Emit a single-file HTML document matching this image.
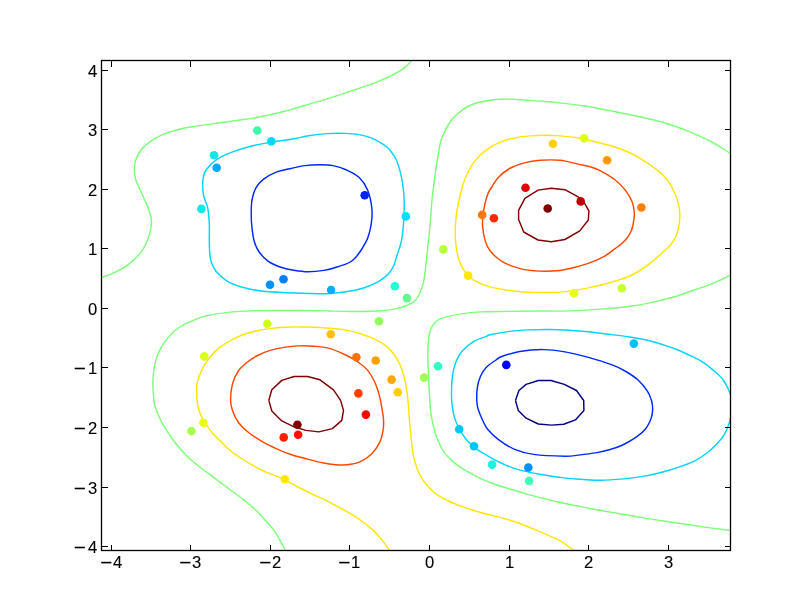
<!DOCTYPE html><html><head><meta charset="utf-8"><style>html,body{margin:0;padding:0;background:#fff;width:812px;height:612px;overflow:hidden}svg{display:block}text{font-family:"Liberation Sans",sans-serif;font-size:16.6px;fill:#000}</style></head><body>
<svg width="812" height="612" viewBox="0 0 812 612">
<rect width="812" height="612" fill="#fff"/>
<defs><clipPath id="ax"><rect x="101.5" y="60.5" width="629.0" height="490.0"/></clipPath></defs>
<g clip-path="url(#ax)" fill="none" stroke-width="1.45" stroke-linejoin="round" stroke-linecap="butt">
<path stroke="#7dff7a" d="M412.60,60.00C410.62,61.73 406.18,66.92 400.70,70.40C395.22,73.88 387.85,77.48 379.70,80.90C371.55,84.32 361.12,87.73 351.80,90.90C342.48,94.07 332.78,97.13 323.80,99.90C314.82,102.67 304.55,105.57 297.90,107.50C291.25,109.43 290.55,109.87 283.90,111.50C277.25,113.13 264.70,115.97 258.00,117.30C251.30,118.63 250.08,118.58 243.70,119.50C237.32,120.42 228.35,121.58 219.70,122.80C211.05,124.02 199.12,125.57 191.80,126.80C184.48,128.03 180.47,128.97 175.80,130.20C171.13,131.43 167.72,132.53 163.80,134.20C159.88,135.87 156.12,137.53 152.30,140.20C148.48,142.87 143.70,146.77 140.90,150.20C138.10,153.63 136.60,157.38 135.50,160.80C134.40,164.22 134.23,167.48 134.30,170.70C134.37,173.92 134.47,175.88 135.90,180.10C137.33,184.32 140.73,191.03 142.90,196.00C145.07,200.97 147.47,205.75 148.90,209.90C150.33,214.05 151.33,217.07 151.50,220.90C151.67,224.73 150.83,229.08 149.90,232.90C148.97,236.72 147.57,240.32 145.90,243.80C144.23,247.28 142.90,250.30 139.90,253.80C136.90,257.30 132.22,261.63 127.90,264.80C123.58,267.97 118.32,270.70 114.00,272.80C109.68,274.90 106.00,275.87 102.00,277.40C98.00,278.93 92.00,281.23 90.00,282.00"/>
<path stroke="#7dff7a" d="M740.00,159.50C738.35,158.45 733.12,155.12 730.10,153.20C727.08,151.28 725.22,150.03 721.90,148.00C718.58,145.97 714.10,143.05 710.20,141.00C706.30,138.95 702.40,137.42 698.50,135.70C694.60,133.98 690.70,132.27 686.80,130.70C682.90,129.13 679.00,127.67 675.10,126.30C671.20,124.93 666.75,123.52 663.40,122.50C660.05,121.48 660.53,121.48 655.00,120.20C649.47,118.92 638.23,116.48 630.20,114.80C622.17,113.12 614.60,111.60 606.80,110.10C599.00,108.60 591.20,107.00 583.40,105.80C575.60,104.60 567.95,103.72 560.00,102.90C552.05,102.08 543.40,101.50 535.70,100.90C528.00,100.30 520.45,99.53 513.80,99.30C507.15,99.07 502.28,98.80 495.80,99.50C489.32,100.20 480.55,101.70 474.90,103.50C469.25,105.30 465.90,107.42 461.90,110.30C457.90,113.18 454.23,116.22 450.90,120.80C447.57,125.38 444.05,131.97 441.90,137.80C439.75,143.63 439.25,148.75 438.00,155.80C436.75,162.85 435.40,172.73 434.40,180.10C433.40,187.47 432.80,191.70 432.00,200.00C431.20,208.30 430.45,220.73 429.60,229.90C428.75,239.07 427.58,248.57 426.90,255.00C426.22,261.43 426.07,263.98 425.50,268.50C424.93,273.02 424.52,277.80 423.50,282.10C422.48,286.40 420.98,291.03 419.40,294.30C417.82,297.57 416.25,299.78 414.00,301.70C411.75,303.62 409.07,304.60 405.90,305.80C402.73,307.00 398.62,308.12 395.00,308.90C391.38,309.68 388.27,310.12 384.20,310.50C380.13,310.88 376.25,311.05 370.60,311.20C364.95,311.35 357.07,311.43 350.30,311.40C343.53,311.37 335.40,311.12 330.00,311.00C324.60,310.88 324.83,310.78 317.90,310.70C310.97,310.62 298.25,310.52 288.40,310.50C278.55,310.48 268.65,310.33 258.80,310.60C248.95,310.87 238.17,311.20 229.30,312.10C220.43,313.00 211.85,314.50 205.60,316.00C199.35,317.50 196.23,319.18 191.80,321.10C187.37,323.02 183.00,324.70 179.00,327.50C175.00,330.30 170.98,334.17 167.80,337.90C164.62,341.63 162.05,345.57 159.90,349.90C157.75,354.23 156.07,358.58 154.90,363.90C153.73,369.22 153.07,375.82 152.90,381.80C152.73,387.78 153.48,395.55 153.90,399.80C154.32,404.05 154.33,404.02 155.40,407.30C156.47,410.58 158.27,415.42 160.30,419.50C162.33,423.58 164.95,427.72 167.60,431.80C170.25,435.88 172.93,439.92 176.20,444.00C179.47,448.08 183.23,452.42 187.20,456.30C191.17,460.18 195.50,463.72 200.00,467.30C204.50,470.88 209.47,474.27 214.20,477.80C218.93,481.33 223.65,484.95 228.40,488.50C233.15,492.05 238.18,495.55 242.70,499.10C247.22,502.65 251.72,506.23 255.50,509.80C259.28,513.37 262.32,517.07 265.40,520.50C268.48,523.93 271.62,527.20 274.00,530.40C276.38,533.60 277.82,536.38 279.70,539.70C281.58,543.02 283.83,547.33 285.30,550.30C286.77,553.27 287.97,556.30 288.50,557.50"/>
<path stroke="#7dff7a" d="M740.00,271.00C738.27,271.77 733.73,273.72 729.60,275.60C725.47,277.48 721.30,279.82 715.20,282.30C709.10,284.78 700.40,287.92 693.00,290.50C685.60,293.08 678.18,295.70 670.80,297.80C663.42,299.90 656.08,301.62 648.70,303.10C641.32,304.58 633.90,305.73 626.50,306.70C619.10,307.67 611.68,308.28 604.30,308.90C596.92,309.52 589.58,310.03 582.20,310.40C574.82,310.77 567.75,311.00 560.00,311.10C552.25,311.20 544.43,310.95 535.70,311.00C526.97,311.05 516.60,311.25 507.60,311.40C498.60,311.55 488.88,311.57 481.70,311.90C474.52,312.23 470.02,312.65 464.50,313.40C458.98,314.15 453.15,315.22 448.60,316.40C444.05,317.58 440.20,318.32 437.20,320.50C434.20,322.68 432.03,326.37 430.60,329.50C429.17,332.63 429.07,335.05 428.60,339.30C428.13,343.55 427.82,349.18 427.80,355.00C427.78,360.82 428.17,366.70 428.50,374.20C428.83,381.70 429.35,393.15 429.80,400.00C430.25,406.85 430.30,409.82 431.20,415.30C432.10,420.78 433.73,427.95 435.20,432.90C436.67,437.85 438.42,441.63 440.00,445.00C441.58,448.37 442.33,450.17 444.70,453.10C447.07,456.03 450.82,459.77 454.20,462.60C457.58,465.43 460.48,467.38 465.00,470.10C469.52,472.82 476.33,476.53 481.30,478.90C486.27,481.27 490.02,482.62 494.80,484.30C499.58,485.98 504.20,487.23 510.00,489.00C515.80,490.77 521.42,492.68 529.60,494.90C537.78,497.12 549.25,500.08 559.10,502.30C568.95,504.52 578.85,506.33 588.70,508.20C598.55,510.07 608.35,511.77 618.20,513.50C628.05,515.23 637.93,517.02 647.80,518.60C657.67,520.18 667.55,521.53 677.40,523.00C687.25,524.47 698.13,526.17 706.90,527.40C715.67,528.63 724.48,529.67 730.00,530.40C735.52,531.13 738.33,531.57 740.00,531.80"/>
<path stroke="#00d4ff" d="M290.00,139.50C296.92,138.32 302.35,136.78 308.50,135.80C314.65,134.82 320.75,134.00 326.90,133.60C333.05,133.20 340.05,133.23 345.40,133.40C350.75,133.57 354.68,133.85 359.00,134.60C363.32,135.35 367.20,136.22 371.30,137.90C375.40,139.58 380.48,142.65 383.60,144.70C386.72,146.75 387.87,147.65 390.00,150.20C392.13,152.75 394.52,155.65 396.40,160.00C398.28,164.35 400.08,170.85 401.30,176.30C402.52,181.75 403.22,187.25 403.70,192.70C404.18,198.15 404.25,203.55 404.20,209.00C404.15,214.45 403.88,219.95 403.40,225.40C402.92,230.85 402.35,236.77 401.30,241.70C400.25,246.63 398.37,250.98 397.10,255.00C395.83,259.02 395.18,262.63 393.70,265.80C392.22,268.97 390.68,271.40 388.20,274.00C385.72,276.60 382.63,279.15 378.80,281.40C374.97,283.65 370.17,285.85 365.20,287.50C360.23,289.15 354.87,290.28 349.00,291.30C343.13,292.32 335.18,293.20 330.00,293.60C324.82,294.00 324.92,293.85 317.90,293.70C310.88,293.55 297.28,293.15 287.90,292.70C278.52,292.25 269.48,292.00 261.60,291.00C253.72,290.00 246.35,288.33 240.60,286.70C234.85,285.07 231.20,283.77 227.10,281.20C223.00,278.63 218.67,274.58 216.00,271.30C213.33,268.02 212.17,264.88 211.10,261.50C210.03,258.12 209.90,254.92 209.60,251.00C209.30,247.08 209.35,242.52 209.30,238.00C209.25,233.48 209.57,228.92 209.30,223.90C209.03,218.88 208.67,212.72 207.70,207.90C206.73,203.08 204.30,199.57 203.50,195.00C202.70,190.43 202.48,184.67 202.90,180.50C203.32,176.33 203.73,173.48 206.00,170.00C208.27,166.52 212.50,162.47 216.50,159.60C220.50,156.73 224.87,154.87 230.00,152.80C235.13,150.73 241.13,148.85 247.30,147.20C253.47,145.55 259.88,144.18 267.00,142.90C274.12,141.62 283.08,140.68 290.00,139.50Z"/>
<path stroke="#00d4ff" d="M733.00,400.00C732.52,398.83 731.70,396.30 730.10,393.00C728.50,389.70 726.17,383.97 723.40,380.20C720.63,376.43 717.18,373.57 713.50,370.40C709.82,367.23 705.38,363.77 701.30,361.20C697.22,358.63 693.08,356.95 689.00,355.00C684.92,353.05 680.88,351.13 676.80,349.50C672.72,347.87 668.58,346.53 664.50,345.20C660.42,343.87 656.38,342.58 652.30,341.50C648.22,340.42 644.07,339.50 640.00,338.70C635.93,337.90 633.20,337.45 627.90,336.70C622.60,335.95 614.77,335.02 608.20,334.20C601.63,333.38 595.07,332.47 588.50,331.80C581.93,331.13 575.37,330.58 568.80,330.20C562.23,329.82 555.67,329.55 549.10,329.50C542.53,329.45 535.97,329.58 529.40,329.90C522.83,330.22 516.27,330.58 509.70,331.40C503.13,332.22 493.98,333.93 490.00,334.80C486.02,335.67 488.42,335.53 485.80,336.60C483.18,337.67 478.12,338.92 474.30,341.20C470.48,343.48 465.75,347.35 462.90,350.30C460.05,353.25 458.73,355.75 457.20,358.90C455.67,362.05 454.57,365.58 453.70,369.20C452.83,372.82 452.37,376.30 452.00,380.60C451.63,384.90 451.45,390.70 451.50,395.00C451.55,399.30 451.78,402.58 452.30,406.40C452.82,410.22 453.45,414.18 454.60,417.90C455.75,421.62 457.38,425.27 459.20,428.70C461.02,432.13 462.93,435.35 465.50,438.50C468.07,441.65 470.98,444.75 474.60,447.60C478.22,450.45 482.97,453.12 487.20,455.60C491.43,458.08 495.23,460.28 500.00,462.50C504.77,464.72 509.18,466.93 515.80,468.90C522.42,470.87 532.38,472.90 539.70,474.30C547.02,475.70 553.98,476.53 559.70,477.30C565.42,478.07 567.30,478.40 574.00,478.90C580.70,479.40 591.58,480.30 599.90,480.30C608.22,480.30 616.73,479.55 623.90,478.90C631.07,478.25 637.57,477.25 642.90,476.40C648.23,475.55 651.58,474.82 655.90,473.80C660.22,472.78 664.50,471.58 668.80,470.30C673.10,469.02 677.38,467.67 681.70,466.10C686.02,464.53 690.38,463.17 694.70,460.90C699.02,458.63 703.73,455.52 707.60,452.50C711.47,449.48 715.10,445.82 717.90,442.80C720.70,439.78 722.57,437.52 724.40,434.40C726.23,431.28 727.80,427.17 728.90,424.10C730.00,421.03 730.32,418.68 731.00,416.00C731.68,413.32 732.67,409.33 733.00,408.00"/>
<path stroke="#0028ff" d="M290.00,168.70C294.67,167.65 299.87,166.27 304.80,165.60C309.73,164.93 314.88,164.70 319.60,164.70C324.32,164.70 328.58,164.72 333.10,165.60C337.62,166.48 342.38,168.05 346.70,170.00C351.02,171.95 355.52,173.97 359.00,177.30C362.48,180.63 365.45,184.72 367.60,190.00C369.75,195.28 371.33,203.10 371.90,209.00C372.47,214.90 371.97,219.95 371.00,225.40C370.03,230.85 369.08,235.93 366.10,241.70C363.12,247.47 357.82,255.82 353.10,260.00C348.38,264.18 342.68,265.07 337.80,266.80C332.92,268.53 328.78,269.57 323.80,270.40C318.82,271.23 312.87,271.82 307.90,271.80C302.93,271.78 298.65,271.10 294.00,270.30C289.35,269.50 284.38,268.57 280.00,267.00C275.62,265.43 271.28,263.57 267.70,260.90C264.12,258.23 260.75,254.28 258.50,251.00C256.25,247.72 255.28,245.05 254.20,241.20C253.12,237.35 252.50,232.45 252.00,227.90C251.50,223.35 251.20,218.55 251.20,213.90C251.20,209.25 251.22,204.33 252.00,200.00C252.78,195.67 254.02,191.35 255.90,187.90C257.78,184.45 259.82,181.97 263.30,179.30C266.78,176.63 272.35,173.67 276.80,171.90C281.25,170.13 285.33,169.75 290.00,168.70Z"/>
<path stroke="#0028ff" d="M501.80,356.50C505.73,355.08 512.70,352.65 519.60,351.50C526.50,350.35 535.65,349.53 543.20,349.60C550.75,349.67 557.35,350.60 564.90,351.90C572.45,353.20 580.62,355.23 588.50,357.40C596.38,359.57 606.12,362.63 612.20,364.90C618.28,367.17 620.73,368.52 625.00,371.00C629.27,373.48 634.07,376.43 637.80,379.80C641.53,383.17 645.08,387.63 647.40,391.20C649.72,394.77 650.83,398.00 651.70,401.20C652.57,404.40 652.70,407.53 652.60,410.40C652.50,413.27 652.37,415.22 651.10,418.40C649.83,421.58 647.87,426.12 645.00,429.50C642.13,432.88 637.80,436.03 633.90,438.70C630.00,441.37 625.70,443.65 621.60,445.50C617.50,447.35 613.40,448.62 609.30,449.80C605.20,450.98 602.13,451.72 597.00,452.60C591.87,453.48 583.83,454.50 578.50,455.10C573.17,455.70 572.48,456.32 565.00,456.20C557.52,456.08 542.10,455.58 533.60,454.40C525.10,453.22 519.85,451.57 514.00,449.10C508.15,446.63 502.87,442.87 498.50,439.60C494.13,436.33 490.45,432.73 487.80,429.50C485.15,426.27 484.23,423.67 482.60,420.20C480.97,416.73 478.97,411.93 478.00,408.70C477.03,405.47 476.92,404.28 476.80,400.80C476.68,397.32 476.68,391.88 477.30,387.80C477.92,383.72 479.02,379.70 480.50,376.30C481.98,372.90 483.62,370.12 486.20,367.40C488.78,364.68 493.40,361.82 496.00,360.00C498.60,358.18 497.87,357.92 501.80,356.50Z"/>
<path stroke="#000080" d="M515.50,400.50L518.90,390.50L526.10,384.40L538.30,380.50L551.00,380.50L564.30,384.40L576.50,390.50L583.70,400.50L583.90,410.50L575.40,419.90L563.70,424.30L551.60,425.10L538.30,424.00L526.10,418.20L518.30,410.50L515.50,400.50"/>
<path stroke="#ffe600" d="M560.00,135.90C566.55,136.50 576.73,137.72 583.40,138.90C590.07,140.08 594.90,141.70 600.00,143.00C605.10,144.30 609.32,145.20 614.00,146.70C618.68,148.20 623.42,149.85 628.10,152.00C632.78,154.15 637.23,156.58 642.10,159.60C646.97,162.62 653.00,166.60 657.30,170.10C661.60,173.60 664.87,176.45 667.90,180.60C670.93,184.75 673.65,190.65 675.50,195.00C677.35,199.35 678.28,203.18 679.00,206.70C679.72,210.22 679.80,212.98 679.80,216.10C679.80,219.22 679.63,222.08 679.00,225.40C678.37,228.72 677.47,232.68 676.00,236.00C674.53,239.32 672.30,242.67 670.20,245.30C668.10,247.93 666.98,248.62 663.40,251.80C659.82,254.98 653.62,260.70 648.70,264.40C643.78,268.10 638.83,271.42 633.90,274.00C628.97,276.58 624.03,278.18 619.10,279.90C614.17,281.62 609.22,283.02 604.30,284.30C599.38,285.58 594.52,286.62 589.60,287.60C584.68,288.58 579.73,289.45 574.80,290.20C569.87,290.95 565.80,291.73 560.00,292.10C554.20,292.47 546.63,292.47 540.00,292.40C533.37,292.33 528.20,292.53 520.20,291.70C512.20,290.87 499.83,289.37 492.00,287.40C484.17,285.43 477.75,282.57 473.20,279.90C468.65,277.23 467.05,274.68 464.70,271.40C462.35,268.12 460.57,264.58 459.10,260.20C457.63,255.82 456.53,250.12 455.90,245.10C455.27,240.08 455.23,235.10 455.30,230.10C455.37,225.10 455.67,220.12 456.30,215.10C456.93,210.08 458.00,205.02 459.10,200.00C460.20,194.98 461.72,189.00 462.90,185.00C464.08,181.00 464.23,179.98 466.20,176.00C468.17,172.02 471.15,165.58 474.70,161.10C478.25,156.62 483.02,152.33 487.50,149.10C491.98,145.87 496.88,143.60 501.60,141.70C506.32,139.80 511.07,138.67 515.80,137.70C520.53,136.73 525.28,136.30 530.00,135.90C534.72,135.50 539.10,135.30 544.10,135.30C549.10,135.30 553.45,135.30 560.00,135.90Z"/>
<path stroke="#ff4700" d="M560.00,160.30C566.33,160.93 573.00,163.03 578.00,164.10C583.00,165.17 586.33,165.60 590.00,166.70C593.67,167.80 595.80,168.48 600.00,170.70C604.20,172.92 610.92,176.68 615.20,180.00C619.48,183.32 622.87,186.93 625.70,190.60C628.53,194.27 630.78,198.53 632.20,202.00C633.62,205.47 633.92,208.47 634.20,211.40C634.48,214.33 634.33,216.48 633.90,219.60C633.47,222.72 632.77,226.98 631.60,230.10C630.43,233.22 628.65,235.97 626.90,238.30C625.15,240.63 623.13,242.33 621.10,244.10C619.07,245.87 617.50,246.87 614.70,248.90C611.90,250.93 608.48,253.97 604.30,256.30C600.12,258.63 594.52,261.07 589.60,262.90C584.68,264.73 579.73,266.03 574.80,267.30C569.87,268.57 565.98,269.87 560.00,270.50C554.02,271.13 545.53,271.42 538.90,271.10C532.27,270.78 526.45,270.27 520.20,268.60C513.95,266.93 506.42,264.07 501.40,261.10C496.38,258.13 492.77,254.08 490.10,250.80C487.43,247.52 486.65,245.48 485.40,241.40C484.15,237.32 482.92,231.32 482.60,226.30C482.28,221.28 482.70,216.52 483.50,211.30C484.30,206.08 486.02,199.05 487.40,195.00C488.78,190.95 489.95,189.95 491.80,187.00C493.65,184.05 495.53,180.38 498.50,177.30C501.47,174.22 505.30,170.90 509.60,168.50C513.90,166.10 519.23,164.27 524.30,162.90C529.37,161.53 534.05,160.73 540.00,160.30C545.95,159.87 553.67,159.67 560.00,160.30Z"/>
<path stroke="#ff4700" d="M230.60,400.00C230.60,395.67 231.12,389.13 232.40,384.30C233.68,379.47 235.83,374.68 238.30,371.00C240.77,367.32 244.00,364.78 247.20,362.20C250.40,359.62 253.82,357.43 257.50,355.50C261.18,353.57 264.87,351.95 269.30,350.60C273.73,349.25 279.17,348.18 284.10,347.40C289.03,346.62 293.97,346.10 298.90,345.90C303.83,345.70 308.78,345.83 313.70,346.20C318.62,346.57 323.05,346.63 328.40,348.10C333.75,349.57 340.87,352.68 345.80,355.00C350.73,357.32 354.38,359.48 358.00,362.00C361.62,364.52 364.78,366.93 367.50,370.10C370.22,373.27 372.50,377.38 374.30,381.00C376.10,384.62 377.28,388.63 378.30,391.80C379.32,394.97 379.83,397.43 380.40,400.00C380.97,402.57 381.18,403.97 381.70,407.20C382.22,410.43 383.27,415.57 383.50,419.40C383.73,423.23 383.73,426.37 383.10,430.20C382.47,434.03 381.62,438.45 379.70,442.40C377.78,446.35 374.98,450.62 371.60,453.90C368.22,457.18 363.70,460.28 359.40,462.10C355.10,463.92 349.73,464.37 345.80,464.80C341.87,465.23 339.68,465.03 335.80,464.70C331.92,464.37 327.17,463.73 322.50,462.80C317.83,461.87 312.97,460.45 307.80,459.10C302.63,457.75 296.68,456.42 291.50,454.70C286.32,452.98 281.63,451.02 276.70,448.80C271.77,446.58 266.58,444.12 261.90,441.40C257.22,438.68 252.53,435.70 248.60,432.50C244.67,429.30 241.00,425.90 238.30,422.20C235.60,418.50 233.68,414.00 232.40,410.30C231.12,406.60 230.60,404.33 230.60,400.00Z"/>
<path stroke="#800000" d="M518.60,210.30L524.90,198.30L538.00,190.10L551.20,188.20L564.90,189.70L578.60,197.20L584.30,202.90L588.90,210.90L588.30,220.00L579.80,230.90L564.90,239.50L551.20,241.80L538.00,240.00L523.70,232.00L518.60,219.50L518.60,210.30"/>
<path stroke="#800000" d="M268.80,400.40L271.80,389.80L281.80,380.40L294.10,376.50L307.60,376.50L320.00,379.80L333.50,389.80L340.60,400.40L343.50,410.40L341.80,420.40L332.40,428.60L318.80,431.90L305.90,430.40L294.10,426.80L281.80,420.90L271.80,410.90L268.80,400.40"/>
<path stroke="#ffe600" d="M395.50,558.50C394.47,557.08 391.67,553.23 389.30,550.00C386.93,546.77 384.07,542.45 381.30,539.10C378.53,535.75 376.20,533.08 372.70,529.90C369.20,526.72 365.03,523.28 360.30,520.00C355.57,516.72 350.03,513.48 344.30,510.20C338.57,506.92 331.23,502.97 325.90,500.30C320.57,497.63 316.62,496.25 312.30,494.20C307.98,492.15 304.72,490.48 300.00,488.00C295.28,485.52 289.55,481.92 284.00,479.30C278.45,476.68 270.82,474.02 266.70,472.30C262.58,470.58 261.75,470.23 259.30,469.00C256.85,467.77 254.45,466.32 252.00,464.90C249.55,463.48 247.07,462.03 244.60,460.50C242.13,458.97 239.67,457.42 237.20,455.70C234.73,453.98 232.10,452.15 229.80,450.20C227.50,448.25 226.23,446.80 223.40,444.00C220.57,441.20 215.52,436.40 212.80,433.40C210.08,430.40 208.80,428.45 207.10,426.00C205.40,423.55 203.90,421.15 202.60,418.70C201.30,416.25 200.18,413.88 199.30,411.30C198.42,408.72 197.72,405.92 197.30,403.20C196.88,400.48 196.83,398.33 196.80,395.00C196.77,391.67 196.27,387.37 197.10,383.20C197.93,379.03 200.15,373.67 201.80,370.00C203.45,366.33 204.53,364.52 207.00,361.20C209.47,357.88 212.78,353.48 216.60,350.10C220.42,346.72 225.72,343.37 229.90,340.90C234.08,338.43 237.55,336.92 241.70,335.30C245.85,333.68 250.15,332.32 254.80,331.20C259.45,330.08 264.68,329.27 269.60,328.60C274.52,327.93 279.23,327.48 284.30,327.20C289.37,326.92 295.05,326.88 300.00,326.90C304.95,326.92 308.17,326.98 314.00,327.30C319.83,327.62 329.25,328.25 335.00,328.80C340.75,329.35 343.98,329.70 348.50,330.60C353.02,331.50 357.58,332.70 362.10,334.20C366.62,335.70 371.53,337.57 375.60,339.60C379.67,341.63 383.33,343.80 386.50,346.40C389.67,349.00 392.35,352.15 394.60,355.20C396.85,358.25 398.42,361.08 400.00,364.70C401.58,368.32 402.97,372.62 404.10,376.90C405.23,381.18 406.17,386.55 406.80,390.40C407.43,394.25 407.57,396.52 407.90,400.00C408.23,403.48 408.42,406.48 408.80,411.30C409.18,416.12 409.68,423.28 410.20,428.90C410.72,434.52 411.35,440.52 411.90,445.00C412.45,449.48 412.67,451.97 413.50,455.80C414.33,459.63 415.32,463.93 416.90,468.00C418.48,472.07 420.17,476.13 423.00,480.20C425.83,484.27 429.83,489.02 433.90,492.40C437.97,495.78 442.67,498.13 447.40,500.50C452.13,502.87 456.65,504.57 462.30,506.60C467.95,508.63 473.35,510.43 481.30,512.70C489.25,514.97 500.93,517.35 510.00,520.20C519.07,523.05 527.42,526.38 535.70,529.80C543.98,533.22 553.38,537.28 559.70,540.70C566.02,544.12 570.22,547.75 573.60,550.30C576.98,552.85 578.93,555.05 580.00,556.00"/>
</g>
<g>
<circle cx="257.3" cy="130.5" r="4.30" fill="#40f8a8"/>
<circle cx="214.1" cy="155.2" r="4.30" fill="#10e8e8"/>
<circle cx="216.7" cy="167.7" r="4.30" fill="#00a8ff"/>
<circle cx="201.4" cy="208.9" r="4.30" fill="#10e8e8"/>
<circle cx="364.7" cy="195.2" r="4.30" fill="#0020ff"/>
<circle cx="271.3" cy="141.4" r="4.30" fill="#00d8ff"/>
<circle cx="405.8" cy="216.4" r="4.30" fill="#00e0f8"/>
<circle cx="283.5" cy="279.2" r="4.30" fill="#0080ff"/>
<circle cx="270.0" cy="284.7" r="4.30" fill="#0090ff"/>
<circle cx="331.1" cy="290.0" r="4.30" fill="#00b0ff"/>
<circle cx="394.9" cy="286.2" r="4.30" fill="#20ffd8"/>
<circle cx="406.9" cy="298.1" r="4.30" fill="#68f890"/>
<circle cx="552.9" cy="143.8" r="4.30" fill="#ffd000"/>
<circle cx="584.0" cy="138.2" r="4.30" fill="#e0ff10"/>
<circle cx="607.1" cy="160.2" r="4.30" fill="#ff9800"/>
<circle cx="525.5" cy="187.7" r="4.30" fill="#e00000"/>
<circle cx="547.7" cy="208.5" r="4.30" fill="#800000"/>
<circle cx="580.7" cy="201.4" r="4.30" fill="#c00000"/>
<circle cx="482.2" cy="214.9" r="4.30" fill="#ff7800"/>
<circle cx="493.9" cy="218.3" r="4.30" fill="#ff2800"/>
<circle cx="443.3" cy="249.4" r="4.30" fill="#b8ff40"/>
<circle cx="468.1" cy="275.6" r="4.30" fill="#ffe800"/>
<circle cx="574.0" cy="293.2" r="4.30" fill="#e8ff10"/>
<circle cx="641.4" cy="207.5" r="4.30" fill="#ff8000"/>
<circle cx="621.8" cy="288.3" r="4.30" fill="#c8ff30"/>
<circle cx="204.3" cy="356.4" r="4.30" fill="#dcff18"/>
<circle cx="203.4" cy="422.8" r="4.30" fill="#e8ff10"/>
<circle cx="267.3" cy="323.8" r="4.30" fill="#d0ff18"/>
<circle cx="379.0" cy="321.3" r="4.30" fill="#90ff5c"/>
<circle cx="330.8" cy="334.3" r="4.30" fill="#ffc000"/>
<circle cx="356.4" cy="357.3" r="4.30" fill="#ff7000"/>
<circle cx="375.7" cy="360.5" r="4.30" fill="#ffa000"/>
<circle cx="391.6" cy="379.6" r="4.30" fill="#ffa800"/>
<circle cx="397.7" cy="392.2" r="4.30" fill="#ffcc00"/>
<circle cx="358.4" cy="393.4" r="4.30" fill="#ff4000"/>
<circle cx="365.9" cy="414.6" r="4.30" fill="#ff0400"/>
<circle cx="297.4" cy="424.8" r="4.30" fill="#800000"/>
<circle cx="438.0" cy="366.3" r="4.30" fill="#30ffc4"/>
<circle cx="424.1" cy="377.6" r="4.30" fill="#a4ff50"/>
<circle cx="506.3" cy="364.9" r="4.30" fill="#0000ff"/>
<circle cx="633.8" cy="343.6" r="4.30" fill="#00c0ff"/>
<circle cx="191.4" cy="431.0" r="4.30" fill="#a8ff50"/>
<circle cx="283.7" cy="437.4" r="4.30" fill="#ff2000"/>
<circle cx="298.1" cy="434.7" r="4.30" fill="#ff1000"/>
<circle cx="284.9" cy="479.2" r="4.30" fill="#ffe800"/>
<circle cx="459.2" cy="429.3" r="4.30" fill="#00c8ff"/>
<circle cx="474.0" cy="446.2" r="4.30" fill="#00c4ff"/>
<circle cx="492.1" cy="464.6" r="4.30" fill="#20f0e0"/>
<circle cx="528.3" cy="467.5" r="4.30" fill="#0090ff"/>
<circle cx="529.1" cy="480.9" r="4.30" fill="#40ffb8"/>
</g>
<g stroke="#000" stroke-width="1" fill="none" shape-rendering="crispEdges">
<rect x="101.5" y="60.5" width="629.0" height="490.0" stroke-width="1.3" shape-rendering="auto"/>
<line x1="111.5" y1="60.5" x2="111.5" y2="66.5"/>
<line x1="111.5" y1="550.5" x2="111.5" y2="544.5"/>
<line x1="190.5" y1="60.5" x2="190.5" y2="66.5"/>
<line x1="190.5" y1="550.5" x2="190.5" y2="544.5"/>
<line x1="270.5" y1="60.5" x2="270.5" y2="66.5"/>
<line x1="270.5" y1="550.5" x2="270.5" y2="544.5"/>
<line x1="349.5" y1="60.5" x2="349.5" y2="66.5"/>
<line x1="349.5" y1="550.5" x2="349.5" y2="544.5"/>
<line x1="429.5" y1="60.5" x2="429.5" y2="66.5"/>
<line x1="429.5" y1="550.5" x2="429.5" y2="544.5"/>
<line x1="509.5" y1="60.5" x2="509.5" y2="66.5"/>
<line x1="509.5" y1="550.5" x2="509.5" y2="544.5"/>
<line x1="588.5" y1="60.5" x2="588.5" y2="66.5"/>
<line x1="588.5" y1="550.5" x2="588.5" y2="544.5"/>
<line x1="668.5" y1="60.5" x2="668.5" y2="66.5"/>
<line x1="668.5" y1="550.5" x2="668.5" y2="544.5"/>
<line x1="101.5" y1="70.5" x2="107.5" y2="70.5"/>
<line x1="730.5" y1="70.5" x2="724.5" y2="70.5"/>
<line x1="101.5" y1="129.5" x2="107.5" y2="129.5"/>
<line x1="730.5" y1="129.5" x2="724.5" y2="129.5"/>
<line x1="101.5" y1="189.5" x2="107.5" y2="189.5"/>
<line x1="730.5" y1="189.5" x2="724.5" y2="189.5"/>
<line x1="101.5" y1="248.5" x2="107.5" y2="248.5"/>
<line x1="730.5" y1="248.5" x2="724.5" y2="248.5"/>
<line x1="101.5" y1="308.5" x2="107.5" y2="308.5"/>
<line x1="730.5" y1="308.5" x2="724.5" y2="308.5"/>
<line x1="101.5" y1="367.5" x2="107.5" y2="367.5"/>
<line x1="730.5" y1="367.5" x2="724.5" y2="367.5"/>
<line x1="101.5" y1="427.5" x2="107.5" y2="427.5"/>
<line x1="730.5" y1="427.5" x2="724.5" y2="427.5"/>
<line x1="101.5" y1="487.5" x2="107.5" y2="487.5"/>
<line x1="730.5" y1="487.5" x2="724.5" y2="487.5"/>
<line x1="101.5" y1="546.5" x2="107.5" y2="546.5"/>
<line x1="730.5" y1="546.5" x2="724.5" y2="546.5"/>
</g>
<g stroke="#000" stroke-width="0.12" style="will-change:transform">
<rect x="101.25" y="561.80" width="10.20" height="1.60" stroke="none"/>
<text x="112.90" y="567.6">4</text>
<rect x="180.25" y="561.80" width="10.20" height="1.60" stroke="none"/>
<text x="191.90" y="567.6">3</text>
<rect x="260.25" y="561.80" width="10.20" height="1.60" stroke="none"/>
<text x="271.90" y="567.6">2</text>
<rect x="339.25" y="561.80" width="10.20" height="1.60" stroke="none"/>
<text x="350.90" y="567.6">1</text>
<text x="429.50" y="567.6" text-anchor="middle">0</text>
<text x="509.50" y="567.6" text-anchor="middle">1</text>
<text x="588.50" y="567.6" text-anchor="middle">2</text>
<text x="668.50" y="567.6" text-anchor="middle">3</text>
<text x="97.3" y="76.90" text-anchor="end">4</text>
<text x="97.3" y="135.90" text-anchor="end">3</text>
<text x="97.3" y="195.90" text-anchor="end">2</text>
<text x="97.3" y="254.90" text-anchor="end">1</text>
<text x="97.3" y="314.90" text-anchor="end">0</text>
<rect x="74.70" y="367.70" width="10.20" height="1.60" stroke="none"/>
<text x="97.3" y="373.90" text-anchor="end">1</text>
<rect x="74.70" y="427.70" width="10.20" height="1.60" stroke="none"/>
<text x="97.3" y="433.90" text-anchor="end">2</text>
<rect x="74.70" y="487.70" width="10.20" height="1.60" stroke="none"/>
<text x="97.3" y="493.90" text-anchor="end">3</text>
<rect x="74.70" y="546.70" width="10.20" height="1.60" stroke="none"/>
<text x="97.3" y="552.90" text-anchor="end">4</text>
</g>
</svg></body></html>
